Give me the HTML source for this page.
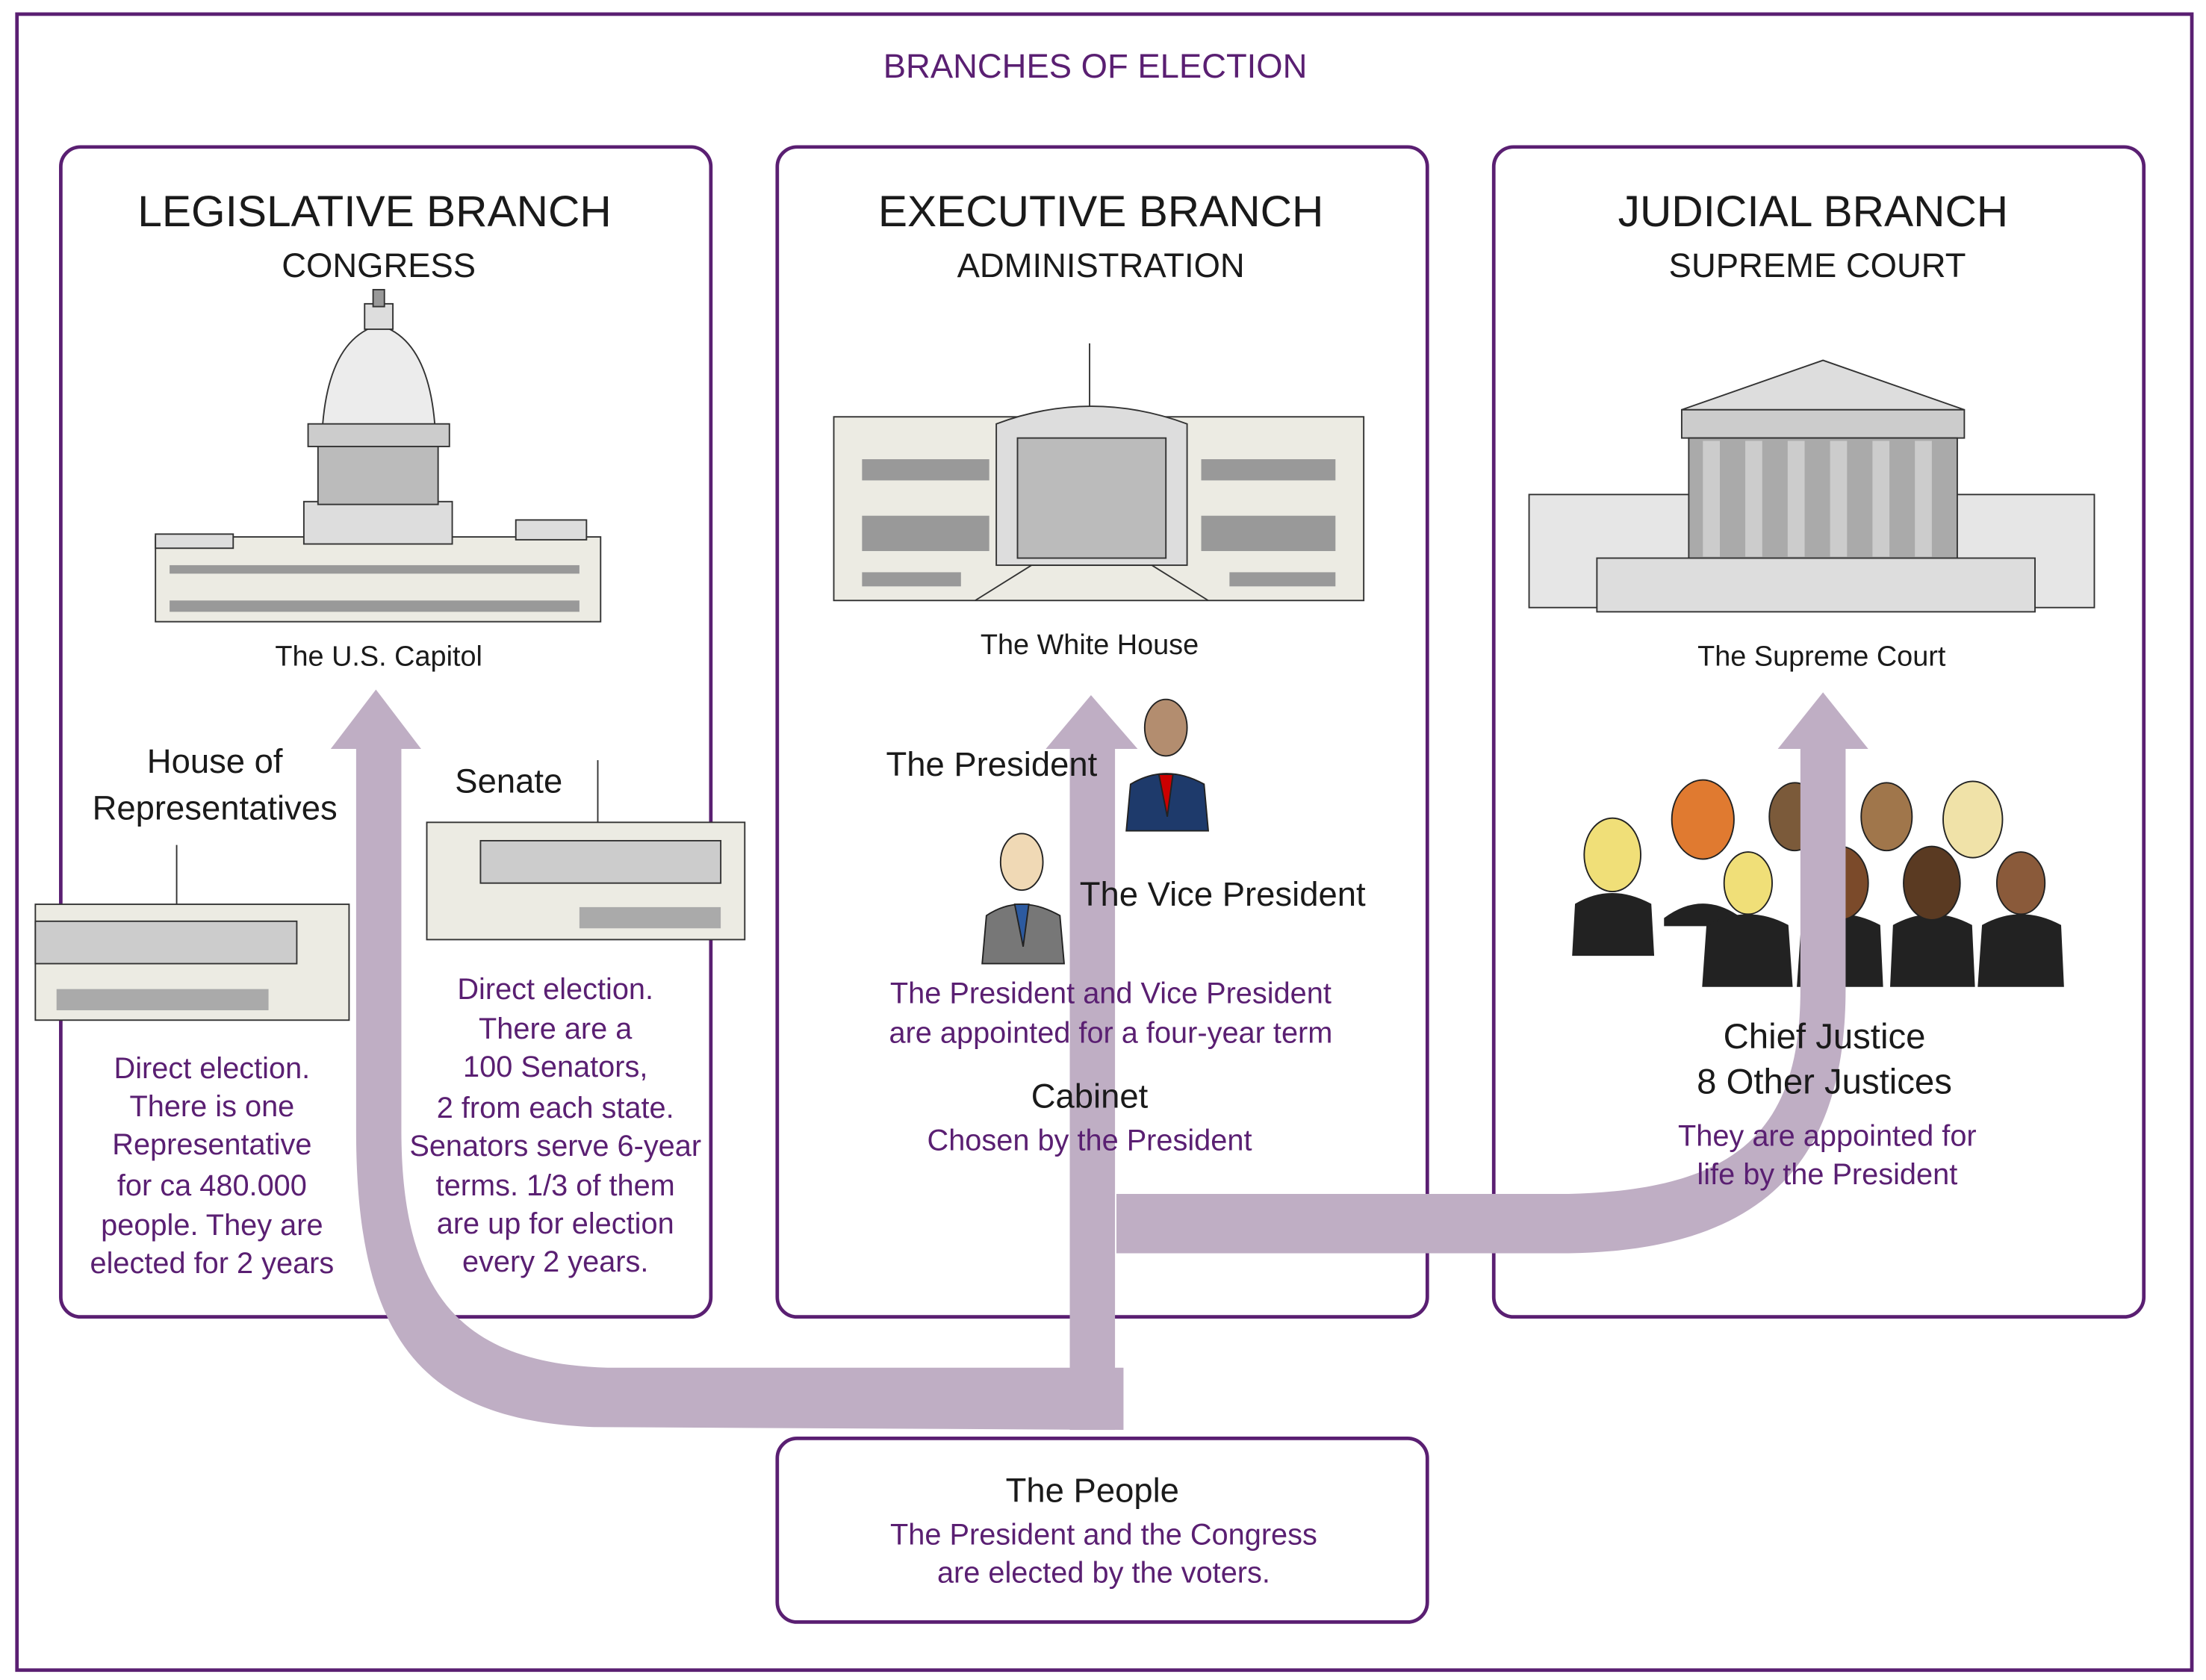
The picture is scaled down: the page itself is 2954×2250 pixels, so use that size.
<!DOCTYPE html>
<html><head><meta charset="utf-8"><style>
html,body{margin:0;padding:0;background:#fff;}
svg{display:block;}
text{font-family:"Liberation Sans",sans-serif;}
.k{fill:#1a1a1a;}
.p{fill:#5a1f72;}
</style></head><body>
<svg width="2954" height="2250" viewBox="0 0 1561 1189" xmlns="http://www.w3.org/2000/svg">
<rect x="0" y="0" width="1561" height="1189" fill="#fff"/>
<rect x="12" y="10" width="1539" height="1172" fill="none" stroke="#5a1f72" stroke-width="2.5"/>
<text x="775" y="55" text-anchor="middle" class="p" font-size="24">BRANCHES OF ELECTION</text>

<g fill="none" stroke="#5a1f72" stroke-width="2.5">
<rect x="43" y="104" width="460" height="828" rx="14"/>
<rect x="550" y="104" width="460" height="828" rx="14"/>
<rect x="1057" y="104" width="460" height="828" rx="14"/>
<rect x="550" y="1018" width="460" height="130" rx="14"/>
</g>

<g class="k" text-anchor="middle">
<text x="265" y="160" font-size="31">LEGISLATIVE BRANCH</text>
<text x="268" y="196" font-size="24">CONGRESS</text>
<text x="779" y="160" font-size="31">EXECUTIVE BRANCH</text>
<text x="779" y="196" font-size="24">ADMINISTRATION</text>
<text x="1283" y="160" font-size="31">JUDICIAL BRANCH</text>
<text x="1286" y="196" font-size="24">SUPREME COURT</text>
</g>

<!-- Capitol -->
<g stroke="#333" stroke-width="1">
<rect x="110" y="380" width="315" height="60" fill="#ecebe3"/>
<rect x="215" y="355" width="105" height="30" fill="#ddd"/>
<rect x="225" y="315" width="85" height="42" fill="#bbb"/>
<path d="M228 305 Q232 240 268 230 Q304 240 308 305 Z" fill="#ececec"/>
<rect x="258" y="215" width="20" height="18" fill="#ddd"/>
<rect x="264" y="205" width="8" height="12" fill="#999"/>
<rect x="218" y="300" width="100" height="16" fill="#ccc"/>
<rect x="110" y="378" width="55" height="10" fill="#ddd"/>
<rect x="365" y="368" width="50" height="14" fill="#ddd"/>
</g>
<g fill="#999"><rect x="120" y="400" width="290" height="6"/><rect x="120" y="425" width="290" height="8"/></g>

<!-- House building -->
<g stroke="#333" stroke-width="1">
<rect x="25" y="640" width="222" height="82" fill="#ecebe3"/>
<rect x="25" y="652" width="185" height="30" fill="#ccc"/>
<line x1="125" y1="640" x2="125" y2="598"/>
</g>
<rect x="40" y="700" width="150" height="15" fill="#aaa"/>
<!-- Senate building -->
<g stroke="#333" stroke-width="1">
<rect x="302" y="582" width="225" height="83" fill="#ecebe3"/>
<rect x="340" y="595" width="170" height="30" fill="#ccc"/>
<line x1="423" y1="582" x2="423" y2="538"/>
</g>
<rect x="410" y="642" width="100" height="15" fill="#aaa"/>

<!-- White House -->
<g stroke="#333" stroke-width="1">
<rect x="590" y="295" width="375" height="130" fill="#ecebe3"/>
<path d="M705 300 Q772 275 840 300 L840 400 L705 400 Z" fill="#ddd"/>
<rect x="720" y="310" width="105" height="85" fill="#bbb"/>
<line x1="771" y1="288" x2="771" y2="243"/>
<path d="M690 425 L730 400 L815 400 L855 425" fill="none"/>
</g>
<g fill="#999"><rect x="610" y="325" width="90" height="15"/><rect x="850" y="325" width="95" height="15"/><rect x="610" y="365" width="90" height="25"/><rect x="850" y="365" width="95" height="25"/><rect x="610" y="405" width="70" height="10"/><rect x="870" y="405" width="75" height="10"/></g>

<!-- Supreme Court -->
<g stroke="#333" stroke-width="1">
<rect x="1082" y="350" width="400" height="80" fill="#e6e6e6"/>
<path d="M1190 290 L1290 255 L1390 290 Z" fill="#ddd"/>
<rect x="1190" y="290" width="200" height="20" fill="#ccc"/>
<rect x="1195" y="310" width="190" height="85" fill="#aaa"/>
<rect x="1130" y="395" width="310" height="38" fill="#ddd"/>
</g>
<g fill="#ccc"><rect x="1205" y="312" width="12" height="82"/><rect x="1235" y="312" width="12" height="82"/><rect x="1265" y="312" width="12" height="82"/><rect x="1295" y="312" width="12" height="82"/><rect x="1325" y="312" width="12" height="82"/><rect x="1355" y="312" width="12" height="82"/></g>

<!-- President -->
<g stroke="#222" stroke-width="1">
<path d="M797 588 L800 555 Q825 540 852 555 L855 588 Z" fill="#1e3a6b"/>
<ellipse cx="825" cy="515" rx="15" ry="20" fill="#b38d6f"/>
<path d="M820 548 L830 548 L826 578 Z" fill="#c00"/>
</g>
<!-- VP -->
<g stroke="#222" stroke-width="1">
<path d="M695 682 L698 648 Q722 632 750 648 L753 682 Z" fill="#777"/>
<ellipse cx="723" cy="610" rx="15" ry="20" fill="#f0d9b5"/>
<path d="M718 640 L728 640 L724 670 Z" fill="#2c5aa0"/>
</g>

<!-- Justices -->
<g stroke="#222" stroke-width="1">
<path d="M1113 676 L1115 640 Q1140 625 1168 640 L1170 676 Z" fill="#222"/>
<ellipse cx="1141" cy="605" rx="20" ry="26" fill="#f0df78"/>
<path d="M1178 650 Q1205 630 1232 650 L1232 655 L1178 655 Z" fill="#222"/>
<ellipse cx="1205" cy="580" rx="22" ry="28" fill="#e07a30"/>
<ellipse cx="1270" cy="578" rx="18" ry="24" fill="#7b5a3a"/>
<ellipse cx="1335" cy="578" rx="18" ry="24" fill="#a0764b"/>
<ellipse cx="1396" cy="580" rx="21" ry="27" fill="#f0e2a8"/>
<path d="M1205 698 L1208 655 Q1237 640 1265 655 L1268 698 Z" fill="#222"/>
<ellipse cx="1237" cy="625" rx="17" ry="22" fill="#f0df78"/>
<path d="M1272 698 L1275 655 Q1302 640 1330 655 L1332 698 Z" fill="#222"/>
<ellipse cx="1302" cy="625" rx="20" ry="26" fill="#7b4a2a"/>
<path d="M1338 698 L1340 655 Q1367 640 1395 655 L1397 698 Z" fill="#222"/>
<ellipse cx="1367" cy="625" rx="20" ry="26" fill="#5a3a22"/>
<path d="M1400 698 L1403 655 Q1430 640 1458 655 L1460 698 Z" fill="#222"/>
<ellipse cx="1430" cy="625" rx="17" ry="22" fill="#8a5a3a"/>
</g>

<!-- Arrows -->
<g fill="#bfaec4">
<path d="M795 1012 L420 1010 C300 1005 252 950 252 800 L252 528 L284 528 L284 800 C284 920 330 965 430 968 L795 968 Z"/>
<rect x="757" y="528" width="32" height="484"/>
<path d="M790 845 L1110 845 C1230 842 1274 800 1274 700 L1274 528 L1306 528 L1306 700 C1306 830 1240 885 1110 887 L790 887 Z"/>
<polygon points="266,488 234,530 298,530"/>
<polygon points="772,492 740,530 805,530"/>
<polygon points="1290,490 1258,530 1322,530"/>
</g>

<g class="k" text-anchor="middle">
<text x="268" y="471" font-size="20">The U.S. Capitol</text>
<text x="152" y="547" font-size="24">House of</text>
<text x="152" y="580" font-size="24">Representatives</text>
<text x="360" y="561" font-size="24">Senate</text>
<text x="771" y="463" font-size="20">The White House</text>
<text x="771" y="784" font-size="24">Cabinet</text>
<text x="1289" y="471" font-size="20">The Supreme Court</text>
<text x="1291" y="742" font-size="25">Chief Justice</text>
<text x="1291" y="774" font-size="25">8 Other Justices</text>
<text x="773" y="1063" font-size="24">The People</text>
</g>
<text x="627" y="549" font-size="24" class="k">The President</text>
<text x="764" y="641" font-size="24" class="k">The Vice President</text>

<g class="p" text-anchor="middle" font-size="21">
<text x="150" y="763">Direct election.</text>
<text x="150" y="790">There is one</text>
<text x="150" y="817">Representative</text>
<text x="150" y="846">for ca 480.000</text>
<text x="150" y="874">people. They are</text>
<text x="150" y="901">elected for 2 years</text>
<text x="393" y="707">Direct election.</text>
<text x="393" y="735">There are a</text>
<text x="393" y="762">100 Senators,</text>
<text x="393" y="791">2 from each state.</text>
<text x="393" y="818">Senators serve 6-year</text>
<text x="393" y="846">terms. 1/3 of them</text>
<text x="393" y="873">are up for election</text>
<text x="393" y="900">every 2 years.</text>
<text x="786" y="710">The President and Vice President</text>
<text x="786" y="738">are appointed for a four-year term</text>
<text x="771" y="814">Chosen by the President</text>
<text x="1293" y="811">They are appointed for</text>
<text x="1293" y="838">life by the President</text>
<text x="781" y="1093">The President and the Congress</text>
<text x="781" y="1120">are elected by the voters.</text>
</g>
</svg>
</body></html>
